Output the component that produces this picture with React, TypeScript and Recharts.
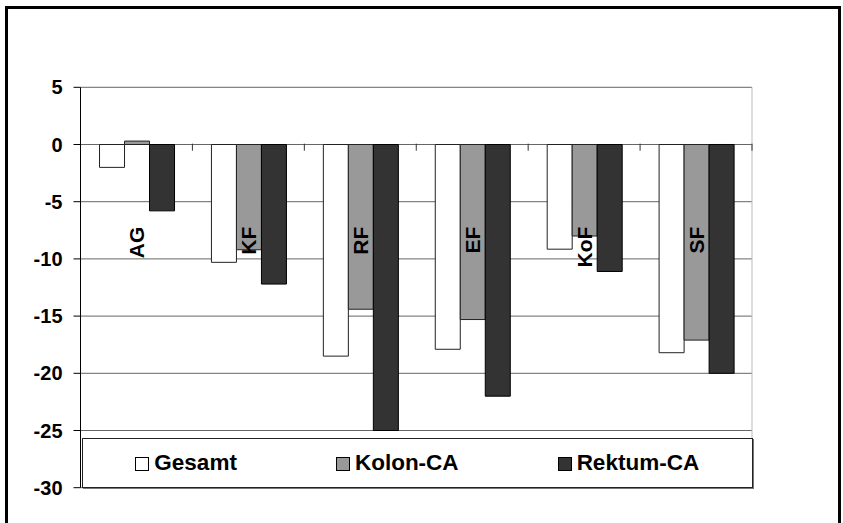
import React from 'react';
import { BarChart, Bar, XAxis, YAxis, CartesianGrid, Legend } from 'recharts';

const categories = ['AG', 'KF', 'RF', 'EF', 'KoF', 'SF'];
const gesamt = [-2.0, -10.3, -18.5, -17.9, -9.15, -18.2];
const kolon = [0.3, -9.2, -14.4, -15.3, -8.0, -17.1];
const rektum = [-5.8, -12.2, -25.0, -22.0, -11.1, -20.0];
const yTicks = [5, 0, -5, -10, -15, -20, -25, -30];
const seriesNames = ['Gesamt', 'Kolon-CA', 'Rektum-CA'];

const data = categories.map((c, i) => ({
  cat: c,
  gesamt: gesamt[i],
  kolon: kolon[i],
  rektum: rektum[i],
}));

const FONT = '"Liberation Sans", Arial, Helvetica, sans-serif';

function CatTick(props: any) {
  const { x, y, payload, width } = props;
  const half = payload && payload.offset ? payload.offset : (width || 672) / categories.length / 2;
  const zeroY = y - 344;
  const labelTop = y - 261;
  const lx = x + 8;
  return (
    <g>
      <line x1={x + half} x2={x + half} y1={zeroY} y2={zeroY + 7} stroke="#333" strokeWidth={1} />
      <text
        x={lx}
        y={labelTop}
        transform={`rotate(-90 ${lx} ${labelTop})`}
        textAnchor="end"
        fontFamily={FONT}
        fontWeight="bold"
        fontSize={21}
        fill="#000"
      >
        {payload.value}
      </text>
    </g>
  );
}

function LegendContent(props: any) {
  const { payload } = props;
  return (
    <div
      style={{
        width: '100%',
        height: '100%',
        display: 'flex',
        alignItems: 'center',
        justifyContent: 'center',
        gap: 99,
        fontFamily: FONT,
        fontWeight: 'bold',
        fontSize: 22.5,
        color: '#000',
      }}
    >
      {(payload || []).map((entry: any) => (
        <div key={entry.value} style={{ display: 'flex', alignItems: 'center' }}>
          <span
            style={{
              display: 'inline-block',
              width: 14,
              height: 14,
              boxSizing: 'border-box',
              border: '1px solid #000',
              background: entry.payload && entry.payload.fill ? entry.payload.fill : entry.color,
              marginRight: 5,
              marginTop: 3,
            }}
          />
          <span style={{ lineHeight: '24px' }}>{entry.value}</span>
        </div>
      ))}
    </div>
  );
}

export default function App() {
  return (
    <div style={{ position: 'fixed', left: 0, top: 0, width: 843, height: 523, overflow: 'hidden', background: '#fff' }}>
      <div
        style={{
          position: 'absolute',
          left: 5,
          top: 6,
          width: 836,
          height: 540,
          border: '3px solid #000',
          boxSizing: 'border-box',
        }}
      />
      <div style={{ position: 'absolute', left: 0, top: 0 }}>
        <BarChart
          width={843}
          height={523}
          data={data}
          margin={{ top: 87.3, right: 90, bottom: 34.3, left: 0.5 }}
          barCategoryGap="17%"
          barGap={0}
        >
          <CartesianGrid horizontal vertical={false} stroke="#666" strokeWidth={1} />
          <XAxis
            dataKey="cat"
            height={1}
            axisLine={false}
            tickLine={false}
            tickSize={0}
            tickMargin={0}
            interval={0}
            tick={<CatTick />}
          />
          <YAxis
            domain={[-30, 5]}
            ticks={yTicks}
            interval={0}
            allowDataOverflow
            width={80}
            tickSize={7}
            tickMargin={11}
            axisLine={{ stroke: '#000', strokeWidth: 1 }}
            tickLine={{ stroke: '#000', strokeWidth: 1 }}
            tick={{ fontFamily: FONT, fontWeight: 'bold', fontSize: 20, fill: '#000' }}
          />
          <YAxis
            yAxisId="r"
            orientation="right"
            domain={[-30, 5]}
            width={1}
            tick={false}
            tickLine={false}
            axisLine={{ stroke: '#bbb', strokeWidth: 1 }}
          />
          <Legend
            layout="vertical"
            align="center"
            verticalAlign="middle"
            wrapperStyle={{
              left: 81.5,
              top: 438,
              width: 671.5,
              height: 49.7,
              boxSizing: 'border-box',
              border: '1px solid #222',
              boxShadow: '1px 1px 0 #777',
              background: '#fff',
            }}
            content={<LegendContent />}
          />
          <Bar dataKey="gesamt" name={seriesNames[0]} fill="#ffffff" stroke="#222" strokeWidth={1} isAnimationActive={false} />
          <Bar dataKey="kolon" name={seriesNames[1]} fill="#999999" stroke="#222" strokeWidth={1} isAnimationActive={false} />
          <Bar dataKey="rektum" name={seriesNames[2]} fill="#333333" stroke="#000" strokeWidth={1} isAnimationActive={false} />
        </BarChart>
      </div>
    </div>
  );
}
